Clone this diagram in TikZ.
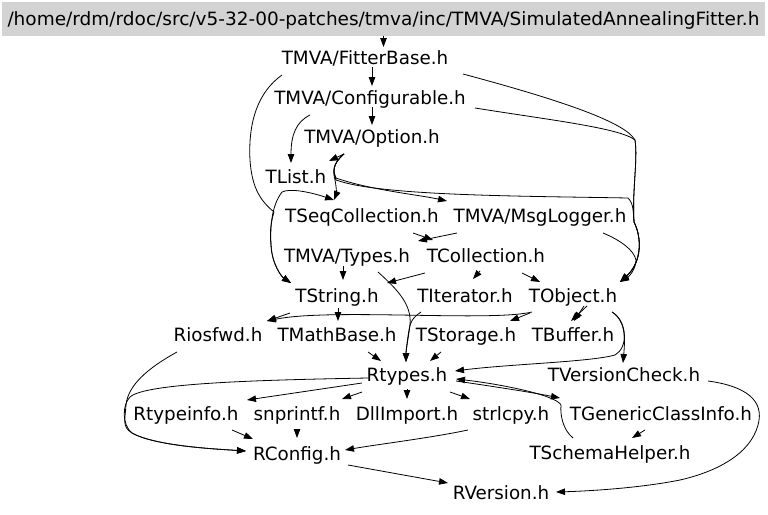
\documentclass[tikz,border=0pt]{standalone}
\usepackage{fontspec}
\setmainfont{DejaVu Sans}
\usetikzlibrary{arrows.meta,calc}
\definecolor{titlegray}{RGB}{211,211,211}
\begin{document}
\begin{tikzpicture}[x=1pt,y=-1pt,
  lbl/.style={font=\fontsize{18.3}{21}\selectfont, inner sep=0pt, text height=17.3pt, text depth=4pt, anchor=center},
  titlebox/.style={lbl, fill=titlegray, draw=titlegray, minimum width=762pt, minimum height=33pt},
  edge/.style={draw=black, line width=0.8pt, -{Triangle[length=9pt,width=6.5pt]}},
  ]
\useasboundingbox (0,0) rectangle (768,514);
\fill[white] (0,0) rectangle (768,514);
% nodes
\node[titlebox] (sa) at (383.5,19) {\resizebox{752pt}{\height}{/home/rdm/rdoc/src/v5-32-00-patches/tmva/inc/TMVA/SimulatedAnnealingFitter.h}};
\node[lbl] (fb) at (365,58) {TMVA/FitterBase.h};
\node[lbl] (cf) at (370,98) {TMVA/Configurable.h};
\node[lbl] (op) at (372,137) {TMVA/Option.h};
\node[lbl] (tl) at (296,177) {TList.h};
\node[lbl] (tsq) at (362,216) {TSeqCollection.h};
\node[lbl] (ml) at (540,216) {TMVA/MsgLogger.h};
\node[lbl] (ty) at (347,256) {TMVA/Types.h};
\node[lbl] (tc) at (486,256) {TCollection.h};
\node[lbl] (ts) at (337,296) {TString.h};
\node[lbl] (ti) at (465,296) {TIterator.h};
\node[lbl] (tob) at (573,296) {TObject.h};
\node[lbl] (rio) at (218,335) {Riosfwd.h};
\node[lbl] (tmb) at (337,335) {TMathBase.h};
\node[lbl] (tst) at (466,335) {TStorage.h};
\node[lbl] (tb) at (573,335) {TBuffer.h};
\node[lbl] (rt) at (407,375) {Rtypes.h};
\node[lbl] (tvc) at (624,375) {TVersionCheck.h};
\node[lbl] (rti) at (186,414) {Rtypeinfo.h};
\node[lbl] (snp) at (297,414) {snprintf.h};
\node[lbl] (dll) at (407,414) {DllImport.h};
\node[lbl] (slc) at (511,414) {strlcpy.h};
\node[lbl] (tgc) at (661,414) {TGenericClassInfo.h};
\node[lbl] (rc) at (297,454) {RConfig.h};
\node[lbl] (tsh) at (610,453) {TSchemaHelper.h};
\node[lbl] (rv) at (501,493) {RVersion.h};
% edges
\draw[edge] (sa.south) -- ($(fb)+(18.5,-11)$);
\draw[edge] ($(fb)+(7,9)$) -- ($(cf)+(2,-12)$);
\draw[edge] ($(cf)+(2,9)$) -- ($(op)+(0,-12)$);
\draw[edge] ($(cf)+(-60,17)$) .. controls (296,122) and (291,135) .. ($(tl)+(-5,-14)$);
\draw[edge] ($(fb)+(-83,17)$) .. controls (258,92) and (248,122) .. (250,160) .. controls (252,190) and (262,202) .. (274,212) .. controls (270,225) and (270,235) .. (271,245) .. controls (272,265) and (282,277) .. ($(ts)+(-46,-13)$);
\draw[edge] ($(tl)+(-14,15)$) .. controls (272,205) and (270,225) .. (271,245) .. controls (272,265) and (282,277) .. ($(ts)+(-46,-13)$);
\draw[edge] ($(tl)+(-14,15)$) .. controls (290,188) and (310,192) .. ($(tsq)+(-28,-16)$);
\draw[edge] ($(op)+(-28,17)$) -- ($(tl)+(33,-16)$);
\draw[edge] ($(op)+(-28,17)$) .. controls (332,164) and (333,172) .. (335,180) .. controls (337,190) and (336,195) .. ($(tsq)+(-28,-16)$);
\draw[edge] ($(op)+(-28,17)$) .. controls (332,164) and (333,172) .. (336,178) .. controls (370,190) and (420,195) .. ($(ml)+(-93,-15)$);
\draw[edge] ($(op)+(-28,17)$) .. controls (332,164) and (333,172) .. (336,180) .. controls (380,196) and (520,196) .. (628,198) .. controls (634,204) and (633,212) .. (634,222) .. controls (642,238) and (642,262) .. ($(tob)+(47,-14)$);
\draw[edge] ($(fb)+(98,16)$) .. controls (560,100) and (625,122) .. (635,140) .. controls (638,160) and (632,190) .. (634,222) .. controls (642,238) and (642,262) .. ($(tob)+(47,-14)$);
\draw[edge] ($(cf)+(105,10)$) .. controls (550,120) and (620,128) .. (635,140) .. controls (638,160) and (632,190) .. (634,222) .. controls (642,238) and (642,262) .. ($(tob)+(47,-14)$);
\draw[edge] ($(ml)+(63,17)$) .. controls (620,240) and (634,250) .. (636,260) .. controls (636,268) and (630,276) .. ($(tob)+(47,-14)$);
\draw[edge] ($(ml)+(-83,17)$) -- ($(ty)+(71,-15)$);
\draw[edge] ($(tsq)+(51,17)$) -- ($(tc)+(-53,-16)$);
\draw[edge] ($(ty)+(-4,10)$) -- ($(ts)+(6,-16)$);
\draw[edge] ($(tc)+(-61,17)$) -- ($(ts)+(50,-13)$);
\draw[edge] ($(tc)+(-6,15)$) -- ($(ti)+(8,-17)$);
\draw[edge] ($(tc)+(36,17)$) -- ($(tob)+(-33,-14)$);
\draw[edge] ($(ty)+(31,16)$) .. controls (398,290) and (412,305) .. (410,325) .. controls (408,340) and (406,350) .. ($(rt)+(-1,-13)$);
\draw[edge] ($(ti)+(-44,16)$) .. controls (412,318) and (410,323) .. (409,330) .. controls (407,342) and (406,352) .. ($(rt)+(-1,-13)$);
\draw[edge] ($(ts)+(-47,17)$) -- ($(rio)+(49,-14)$);
\draw[edge] ($(ts)+(1,12)$) -- ($(tmb)+(1,-14)$);
\draw[edge] ($(tob)+(-41,16)$) .. controls (490,322) and (330,308) .. ($(rio)+(49,-14)$);
\draw[edge] ($(tob)+(-43,17)$) -- ($(tst)+(44,-14)$);
\draw[edge] ($(tob)+(14,10)$) -- ($(tb)+(-2,-14)$);
\draw[edge] ($(tob)+(11,10)$) -- ($(tb)+(1,-14)$);
\draw[edge] ($(tob)+(39,16)$) .. controls (626,320) and (625,340) .. ($(tvc)+(-1,-12)$);
\draw[edge] ($(tob)+(39,16)$) .. controls (628,322) and (628,348) .. (615,355) .. controls (590,362) and (510,364) .. ($(rt)+(48,-4)$);
\draw[edge] ($(tmb)+(31,17)$) -- ($(rt)+(-26,-14)$);
\draw[edge] ($(tst)+(-25,17)$) -- ($(rt)+(23,-14)$);
\draw[edge] ($(rt)+(-45,8)$) -- ($(rti)+(61,-14)$);
\draw[edge] ($(rt)+(-45,17)$) -- ($(snp)+(45,-15)$);
\draw[edge] ($(rt)+(0,14)$) -- ($(dll)+(0,-15)$);
\draw[edge] ($(rt)+(43,17)$) -- ($(slc)+(-41,-15)$);
\draw[edge] ($(rt)+(49,6)$) .. controls (490,386) and (530,392) .. ($(tgc)+(-101,-16)$);
\draw[edge] ($(tsh)+(-37,-15)$) .. controls (563,430) and (560,415) .. (561,405) .. controls (556,395) and (500,384) .. ($(rt)+(49,4)$);
\draw[edge] ($(tgc)+(-16,16)$) -- ($(tsh)+(22,-15)$);
\draw[edge] ($(rt)+(-39,3)$) .. controls (260,380) and (145,383) .. (130,397) .. controls (122,405) and (122,425) .. (132,433) .. controls (155,446) and (215,449) .. ($(rc)+(-51,-3)$);
\draw[edge] ($(rio)+(-41,17)$) .. controls (148,368) and (128,385) .. (126,405) .. controls (125,420) and (122,427) .. (132,433) .. controls (155,446) and (215,449) .. ($(rc)+(-51,-3)$);
\draw[edge] ($(rti)+(46,16)$) -- ($(rc)+(-44,-15)$);
\draw[edge] ($(snp)+(0,16)$) -- ($(rc)+(0,-16)$);
\draw[edge] ($(slc)+(-43,16)$) .. controls (430,438) and (380,444) .. ($(rc)+(48,-4)$);
\draw[edge] ($(rc)+(51,11)$) -- ($(rv)+(-53,-10)$);
\draw[edge] ($(tvc)+(84,6)$) .. controls (745,386) and (765,400) .. (758,425) .. controls (750,455) and (715,472) .. (680,480) .. controls (640,488) and (590,491) .. ($(rv)+(55,-1)$);
\end{tikzpicture}
\end{document}
